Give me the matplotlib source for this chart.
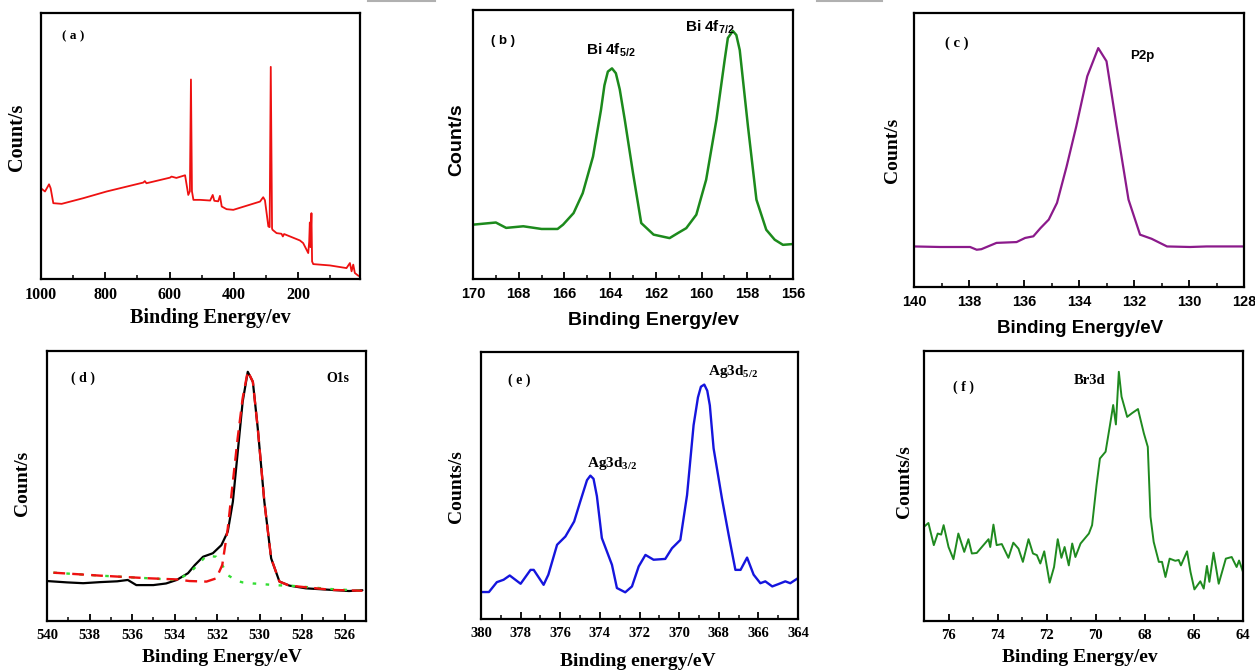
import matplotlib
matplotlib.use("Agg")
import matplotlib.pyplot as plt
from matplotlib.ticker import MultipleLocator, NullLocator
from matplotlib.lines import Line2D

plt.rcParams['mathtext.fontset'] = 'custom'
plt.rcParams['mathtext.rm'] = 'Liberation Serif:bold'
plt.rcParams['mathtext.sf'] = 'Liberation Sans:bold'
plt.rcParams['mathtext.it'] = 'Liberation Serif:bold'
plt.rcParams['mathtext.bf'] = 'Liberation Serif:bold'

# ---------------- data (intensity in arbitrary units, 0-100) ----------------
# (a) survey
a_x = [1000, 987.6, 975, 970, 961.7, 935.8, 868, 796, 682, 677, 672, 599, 594, 579,
       552, 542, 537, 533.7, 530.6, 526, 505, 474, 466, 461, 449, 443.5, 438, 423,
       402, 319, 309, 303.6, 293, 289, 285.5, 281.5, 280, 267.4, 252, 248, 244,
       195, 184.7, 169, 166, 164, 162, 159, 157, 153.4, 101.5, 50, 39.4, 34.2,
       29, 24, 13.5, 8.3]
a_y = [34.1, 32.9, 35.6, 34.1, 28.5, 28.25, 30.4, 32.9, 36.25, 36.8, 36.0, 38.1, 38.5,
       38.0, 39.0, 31.6, 33.0, 75.0, 33.0, 29.75, 29.75, 29.5, 31.6, 29.4, 29.2,
       31.25, 27.25, 26.25, 26.0, 29.1, 30.75, 29.6, 19.75, 19.5, 79.75, 19.0, 18.5,
       17.25, 17.0, 16.0, 16.9, 14.5, 13.5, 9.75, 14.0, 21.25, 12.0, 24.75, 6.6,
       5.6, 5.1, 4.1, 6.0, 2.9, 5.4, 2.25, 1.25, 1.0]

# (b) Bi 4f
b_x = [170, 169.0, 168.55, 167.8, 167.0, 166.3, 166.06, 165.6, 165.2, 164.75, 164.4,
       164.25, 164.1, 163.92, 163.75, 163.58, 163.36, 163.0, 162.64, 162.1, 161.4,
       161.03, 160.67, 160.23, 159.8, 159.35, 158.99, 158.85, 158.63, 158.48,
       158.33, 157.97, 157.6, 157.17, 156.8, 156.44, 156.0]
b_y = [20.2, 21.0, 19.0, 19.6, 18.6, 18.6, 20.2, 24.5, 31.9, 45.5, 62.9, 72.0, 77.1,
       78.3, 76.5, 70.5, 59.2, 39.4, 20.8, 16.5, 15.2, 17.1, 18.9, 23.9, 36.9,
       59.2, 81.4, 89.6, 92.2, 90.7, 85.1, 56.7, 29.5, 18.3, 14.6, 12.7, 13.0]

# (c) P 2p
c_x = [140, 139.05, 137.96, 137.72, 137.55, 137.0, 136.27, 135.96, 135.66, 135.4,
       135.1, 134.8, 134.45, 134.1, 133.7, 133.3, 133.0, 132.63, 132.2, 131.78,
       131.36, 130.8, 129.96, 129.36, 128.0]
c_y = [14.8, 14.6, 14.6, 13.6, 13.8, 16.1, 16.4, 17.9, 18.5, 21.5, 24.6, 30.7, 44.0,
       58.6, 76.9, 87.2, 82.4, 58.6, 31.9, 19.1, 17.6, 14.8, 14.6, 14.8, 14.8]

# (d) O 1s : raw, main component, secondary component
d_x = [540, 539.06, 538.3, 537.5, 536.7, 536.2, 535.8, 535.0, 534.4, 533.9, 533.37,
       533.05, 532.66, 532.2, 531.8, 531.5, 531.26, 531.03, 530.8, 530.56, 530.32,
       530.09, 529.78, 529.46, 529.07, 528.6, 527.83, 526.58, 525.8, 525.17]
d_raw = [14.8, 14.3, 14.0, 14.4, 14.7, 15.2, 13.3, 13.3, 13.9, 15.2, 17.7, 20.7, 23.8,
         25.1, 28.1, 33.1, 44.2, 62.7, 81.2, 92.3, 88.6, 71.4, 44.2, 23.2, 14.6,
         13.1, 12.1, 11.5, 11.1, 11.4]
d_fit_x = [539.7, 537.5, 535.16, 533.9, 533.3, 532.5, 532.04, 531.76, 531.5, 531.26,
           531.03, 530.8, 530.56, 530.32, 530.09, 529.78, 529.46, 529.07, 528.6,
           526.58, 525.17]
d_main = [17.9, 16.8, 15.8, 15.4, 14.8, 14.6, 15.8, 20.7, 34.3, 51.6, 68.0, 82.5,
          92.5, 88.6, 71.4, 44.2, 23.2, 14.6, 13.1, 11.5, 11.2]
d_sec = [17.9, 16.8, 15.8, 15.2, 17.7, 24.2, 23.8, 20.7, 17.0, 15.8, 14.8, 14.3,
         14.1, 13.9, 13.8, 13.6, 13.4, 13.2, 13.1, 11.8, 11.2]

# (e) Ag 3d
e_x = [380, 379.6, 379.2, 378.86, 378.55, 378.0, 377.5, 377.34, 376.84, 376.6,
       376.16, 375.74, 375.3, 374.99, 374.65, 374.48, 374.32, 374.15, 373.9, 373.39,
       373.14, 372.72, 372.38, 372.04, 371.7, 371.29, 370.7, 370.36, 369.94,
       369.6, 369.27, 369.05, 368.9, 368.73, 368.58, 368.45, 368.26, 367.84, 367.5,
       367.16, 366.9, 366.57, 366.24, 365.9, 365.65, 365.3, 364.98, 364.64, 364.39,
       364.0]
e_y = [10.1, 10.1, 13.8, 14.7, 16.3, 13.2, 18.4, 18.4, 12.8, 16.6, 27.8, 30.9, 36.5,
       44.0, 52.0, 53.7, 52.5, 46.0, 30.3, 20.3, 11.6, 10.0, 12.2, 19.7, 24.0,
       22.2, 22.5, 26.5, 29.6, 46.4, 72.6, 83.0, 87.0, 87.8, 85.5, 80.0, 63.9,
       45.2, 31.5, 18.4, 18.4, 23.0, 16.6, 13.4, 14.1, 12.2, 13.1, 14.1, 13.4, 15.3]

# (f) Br 3d
f_x = [77.0, 76.82, 76.6, 76.44, 76.3, 76.2, 76.0, 75.8, 75.6, 75.36, 75.19, 75.05,
       74.85, 74.7, 74.37, 74.3, 74.17, 74.04, 73.83, 73.56, 73.36, 73.15, 72.97,
       72.74, 72.56, 72.4, 72.26, 72.1, 71.88, 71.7, 71.55, 71.4, 71.27, 71.1,
       70.96, 70.83, 70.62, 70.28, 70.15, 69.97, 69.83, 69.6, 69.42, 69.29, 69.18,
       69.06, 68.95, 68.72, 68.52, 68.28, 68.04, 67.88, 67.77, 67.64, 67.43, 67.3,
       67.16, 66.99, 66.76, 66.62, 66.53, 66.28, 66.14, 65.98, 65.74, 65.6, 65.47,
       65.37, 65.2, 64.99, 64.7, 64.46, 64.26, 64.16, 64.0]
f_y = [34.9, 36.3, 28.1, 32.4, 32.0, 35.5, 27.4, 22.9, 32.4, 25.6, 30.3, 25.0, 25.2,
       26.8, 30.3, 27.4, 35.7, 28.1, 28.5, 23.4, 29.0, 26.8, 21.9, 30.3, 25.0,
       24.4, 21.3, 25.8, 14.2, 20.0, 30.3, 23.4, 27.4, 20.6, 28.7, 23.7, 28.7,
       32.4, 35.5, 50.3, 60.2, 62.7, 72.6, 80.0, 72.8, 92.3, 83.1, 75.6, 77.0,
       78.5, 69.5, 64.5, 38.6, 29.3, 21.9, 21.9, 16.3, 23.1, 22.3, 22.6, 20.6,
       25.8, 18.2, 11.7, 14.7, 12.0, 20.4, 14.5, 25.3, 13.8, 23.1, 23.7, 20.0,
       22.4, 18.2]

# ---------------- figure ----------------
W, H = 1255, 671
fig = plt.figure(figsize=(W / 100, H / 100), dpi=100)

SERIF = 'Liberation Serif'
SANS = 'Liberation Sans'


def px_axes(x0, y0, x1, y1):
    return fig.add_axes([x0 / W, (H - y1) / H, (x1 - x0) / W, (y1 - y0) / H])


def ftext(x, y, s, size, family, **kw):
    fig.text(x / W, (H - y) / H, s, fontsize=size, family=family,
             fontweight='bold', ha=kw.pop('ha', 'center'), va=kw.pop('va', 'center'), **kw)


def style(ax, xlim, major, minor, family, tsize):
    ax.set_xlim(*xlim)
    ax.set_ylim(0, 100)
    ax.xaxis.set_major_locator(MultipleLocator(major))
    ax.xaxis.set_minor_locator(MultipleLocator(minor))
    ax.yaxis.set_major_locator(NullLocator())
    ax.yaxis.set_minor_locator(NullLocator())
    ax.tick_params(axis='x', which='major', direction='in', length=5, width=1.3, pad=6)
    ax.tick_params(axis='x', which='minor', direction='in', length=3, width=1.1)
    for sp in ax.spines.values():
        sp.set_linewidth(1.6)
    for lab in ax.get_xticklabels():
        lab.set_fontfamily(family)
        lab.set_fontweight('bold')
        lab.set_fontsize(tsize)


LK = dict(solid_joinstyle='round', solid_capstyle='round')

# (a)
ax = px_axes(41, 13, 360, 279)
ax.plot(a_x, a_y, color='#ee1111', lw=1.3, **LK)
style(ax, (1000, 8), 200, 100, SERIF, 11.5)
ftext(73, 36, '( a )', 9.5, SERIF)
ftext(210, 318, 'Binding Energy/ev', 14.5, SERIF)
ftext(17, 137, 'Count/s', 14.5, SERIF, rotation=90)

# (b)
ax = px_axes(473, 10, 793, 279)
ax.plot(b_x, b_y, color='#1c8a1c', lw=1.8, **LK)
style(ax, (170, 156), 2, 1, SANS, 10.5)
ftext(503, 41, '( b )', 9.5, SANS)
ftext(611, 50, r'$\mathsf{Bi\ 4f_{5/2}}$', 11, SANS)
ftext(710, 27, r'$\mathsf{Bi\ 4f_{7/2}}$', 11, SANS)
ftext(653, 320, 'Binding Energy/ev', 14, SANS)
ftext(457, 140, 'Count/s', 14, SANS, rotation=90)

# (c)
ax = px_axes(914, 13, 1244, 287)
ax.plot(c_x, c_y, color='#8b1a8b', lw=1.6, **LK)
style(ax, (140, 128), 2, 1, SANS, 10.5)
ftext(957, 43, '( c )', 10.5, SERIF)
ftext(1142, 56, 'P2p', 9.5, SANS)
ftext(1080, 328, 'Binding Energy/eV', 13.5, SANS)
ftext(892, 150, 'Count/s', 14, SERIF, rotation=90)

# (d)
ax = px_axes(47, 351, 366, 621)
ax.plot(d_x, d_raw, color='black', lw=1.6, **LK)
ax.plot(d_fit_x, d_sec, color='#33dd33', lw=1.7, ls=(0, (1.5, 4)))
ax.plot(d_fit_x, d_main, color='#ee1111', lw=1.7, ls=(0, (5, 3)))
style(ax, (540, 525), 2, 1, SERIF, 10.5)
ftext(83, 378, '( d )', 10, SERIF)
ftext(338, 378, 'O1s', 10, SERIF)
ftext(222, 657, 'Binding Energy/eV', 14, SERIF)
ftext(23, 483, 'Count/s', 14, SERIF, rotation=90)

# (e)
ax = px_axes(481, 352, 798, 619)
ax.plot(e_x, e_y, color='#1515dd', lw=1.7, **LK)
style(ax, (380, 364), 2, 1, SERIF, 10.5)
ftext(519, 380, '( e )', 10, SERIF)
ftext(733, 371, r'$\mathrm{Ag3d_{5/2}}$', 11, SERIF)
ftext(612, 463, r'$\mathrm{Ag3d_{3/2}}$', 11, SERIF)
ftext(638, 661, 'Binding energy/eV', 14, SERIF)
ftext(457, 487, 'Counts/s', 14, SERIF, rotation=90)

# (f)
ax = px_axes(924, 351, 1243, 621)
ax.plot(f_x, f_y, color='#1f8a1f', lw=1.4, **LK)
style(ax, (77, 64), 2, 1, SERIF, 10.5)
ftext(963, 387, '( f )', 10, SERIF)
ftext(1090, 380, 'Br3d', 10.5, SERIF)
ftext(1080, 658, 'Binding Energy/ev', 14, SERIF)
ftext(905, 482, 'Counts/s', 14, SERIF, rotation=90)

# thin grey cropping marks at the top edge
for x0, x1 in [(368, 435), (817, 882)]:
    fig.add_artist(Line2D([x0 / W, x1 / W], [1 - 1 / H, 1 - 1 / H],
                          color='#b0b0b0', lw=1.5, transform=fig.transFigure))

fig.savefig('out.png', dpi=100)
